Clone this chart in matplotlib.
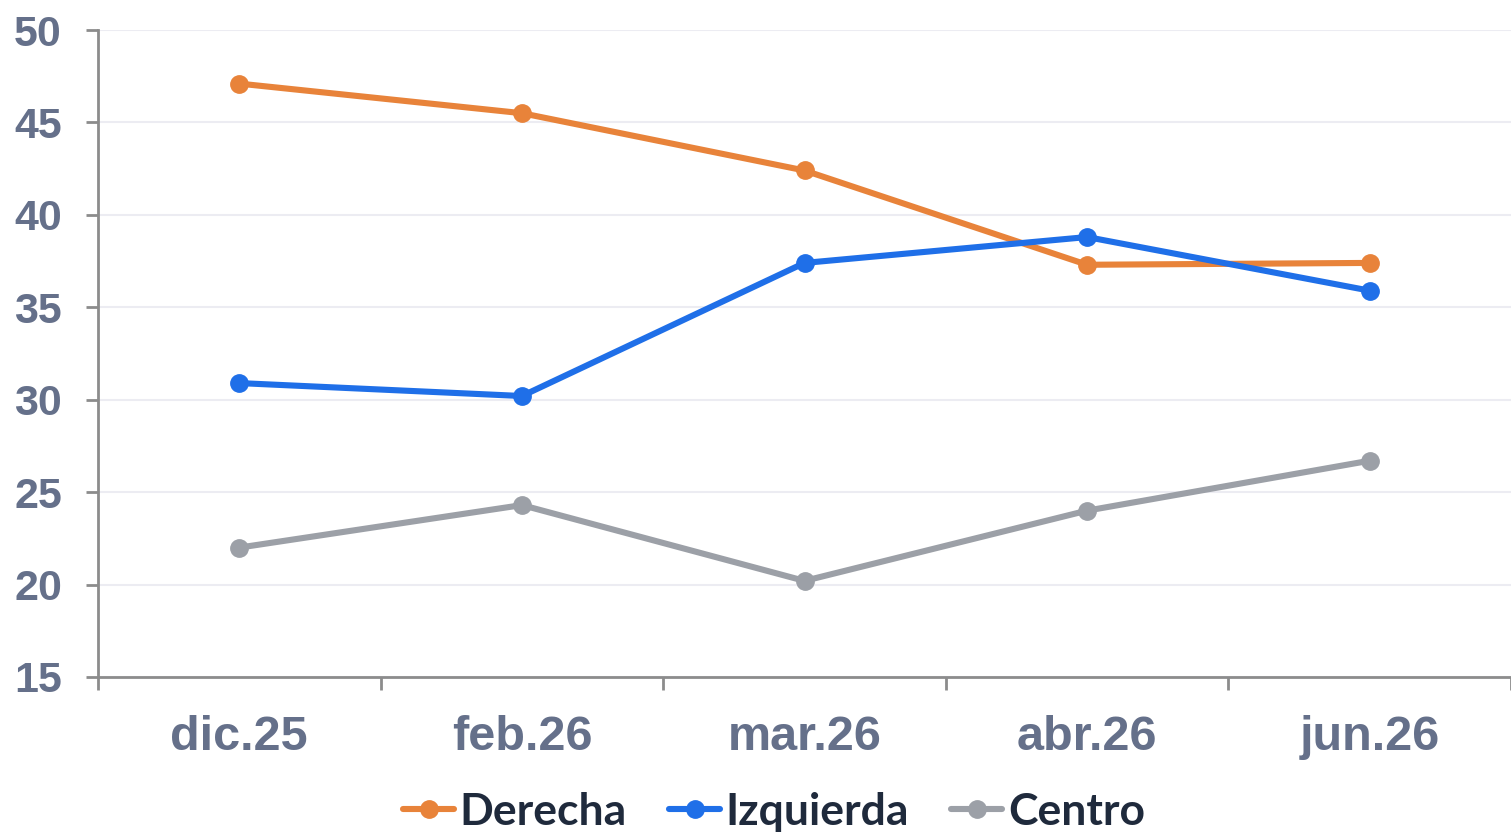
import matplotlib
matplotlib.use("Agg")
import matplotlib.pyplot as plt
import numpy as np

categories = ["dic.25", "feb.26", "mar.26", "abr.26", "jun.26"]
derecha    = [47.1, 45.5, 42.4, 37.3, 37.4]
izquierda  = [30.9, 30.2, 37.4, 38.8, 35.9]
centro     = [22.0, 24.3, 20.2, 24.0, 26.7]
y_ticks    = [15, 20, 25, 30, 35, 40, 45, 50]

TICK_COLOR = "#65708a"
AXIS_COLOR = "#8c8c8c"
GRID_COLOR = "#ececf2"

fig = plt.figure(figsize=(15.11, 8.35), dpi=100)
ax = fig.add_axes([98 / 1511, 1 - 677 / 835, 1413 / 1511, 647 / 835])

x = np.arange(len(categories))
series = [
    ("Derecha",   derecha,   "#e8833a"),
    ("Izquierda", izquierda, "#1f6fe8"),
    ("Centro",    centro,    "#9ca0a7"),
]
for name, vals, col in series:
    ax.plot(x, vals, color=col, lw=4.4, marker="o", ms=12.5, label=name,
            solid_capstyle="round", zorder=3)

ax.set_xlim(-0.5, len(categories) - 0.5)
ax.set_ylim(15, 50)
ax.set_yticks(y_ticks)
ax.set_yticklabels([str(v) for v in y_ticks], fontsize=31, fontweight="bold",
                   color=TICK_COLOR, family="Liberation Sans")
ax.tick_params(axis="y", length=9, width=2, color=AXIS_COLOR, pad=17)

# major ticks on category boundaries, labels on centers
ax.set_xticks(np.arange(len(categories) + 1) - 0.5)
ax.set_xticklabels([])
ax.set_xticks(x, minor=True)
ax.set_xticklabels(categories, minor=True, fontsize=35, fontweight="bold",
                   color=TICK_COLOR, family="Liberation Sans")
ax.tick_params(axis="x", which="major", length=9, width=2, color=AXIS_COLOR)
ax.tick_params(axis="x", which="minor", length=0, pad=27)

ax.grid(axis="y", color=GRID_COLOR, lw=1.5, zorder=0)
for s in ["top", "right"]:
    ax.spines[s].set_visible(False)
for s in ["left", "bottom"]:
    ax.spines[s].set_color(AXIS_COLOR)
    ax.spines[s].set_linewidth(2)

leg = fig.legend(loc="center", bbox_to_anchor=(774 / 1511, 1 - 812 / 835),
                 ncol=3, frameon=False, handlelength=1.15, handletextpad=0.12,
                 columnspacing=0.95,
                 prop={"family": "Lato", "weight": "bold", "size": 32})
for t in leg.get_texts():
    t.set_color("#1f2a3c")

fig.savefig("out.png", dpi=100)
